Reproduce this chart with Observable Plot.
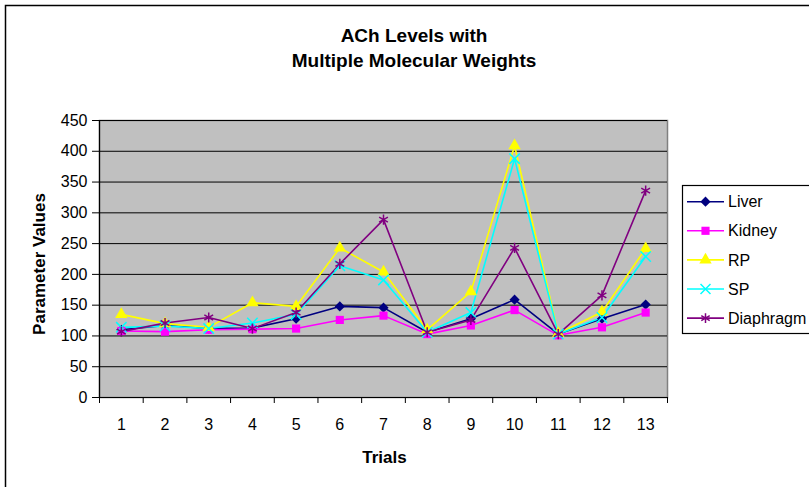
<!DOCTYPE html>
<html>
<head>
<meta charset="utf-8">
<script src="https://cdn.jsdelivr.net/npm/d3@7"></script>
<script src="https://cdn.jsdelivr.net/npm/@observablehq/plot@0.6"></script>
<style>
  html, body { margin: 0; padding: 0; background: #fff; }
  #chart svg { display: block; font-family: "Liberation Sans", Arial, sans-serif; }
</style>
</head>
<body>
<div id="chart"></div>
<script>
const trials = [1, 2, 3, 4, 5, 6, 7, 8, 9, 10, 11, 12, 13];
const liver = [110, 117, 112, 113, 128, 148, 146, 106, 128, 159, 103, 128, 151];
const kidney = [108, 107, 110, 111, 112, 126, 133, 103, 117, 142, 101, 114, 138];
const rp = [135, 120, 114, 154, 148, 243, 204, 110, 172, 409, 104, 139, 242];
const sp = [114, 116, 112, 121, 135, 214, 191, 106, 138, 388, 103, 130, 229];
const diaphragm = [107, 121, 130, 112, 138, 217, 289, 106, 126, 243, 103, 166, 336];

const seriesNames = ["Liver", "Kidney", "RP", "SP", "Diaphragm"];
const seriesValues = [liver, kidney, rp, sp, diaphragm];
const seriesColors = ["#000080", "#FF00FF", "#FFFF00", "#00FFFF", "#800080"];
const seriesSymbols = ["diamond2", "square", "triangle", "times", "asterisk"];
const filledSeries = ["Liver", "Kidney", "RP"];
const yTicks = [0, 50, 100, 150, 200, 250, 300, 350, 400, 450];
const titleLines = ["ACh Levels with", "Multiple Molecular Weights"];
const xTitle = "Trials";
const yTitle = "Parameter Values";

const data = [];
seriesNames.forEach((name, si) => {
  trials.forEach((t, i) => data.push({series: name, trial: t, value: seriesValues[si][i]}));
});
const boundaries = [trials[0] - 0.5, ...trials.map(t => t + 0.5)];

const chart = Plot.plot({
  width: 809,
  height: 487,
  marginLeft: 99,
  marginRight: 142,
  marginTop: 120,
  marginBottom: 90,
  style: {fontFamily: "'Liberation Sans', Arial, sans-serif", background: "#fff", color: "#000"},
  x: {type: "linear", domain: [boundaries[0], boundaries[boundaries.length - 1]]},
  y: {domain: [0, 450]},
  color: {domain: seriesNames, range: seriesColors},
  symbol: {domain: seriesNames, range: seriesSymbols},
  marks: [
    Plot.frame({fill: "#C0C0C0", stroke: "#808080", strokeWidth: 1.5}),
    Plot.gridY(yTicks, {stroke: "#000", strokeOpacity: 1, strokeWidth: 1}),
    Plot.axisY(yTicks, {tickSize: 7, tickPadding: 5, fontSize: 16, label: null, stroke: "#000"}),
    Plot.axisX(boundaries, {tickSize: 6, tickFormat: () => "", label: null, stroke: "#000"}),
    Plot.axisX(trials, {tickSize: 0, tickPadding: 21, fontSize: 16, label: null}),
    Plot.ruleY([0], {stroke: "#000", strokeWidth: 1.2}),
    Plot.ruleX([boundaries[0]], {stroke: "#000", strokeWidth: 1.2}),
    Plot.line(data, {x: "trial", y: "value", z: "series", stroke: "series", strokeWidth: 1.6}),
    Plot.dot(data.filter(d => filledSeries.includes(d.series)), {
      x: "trial", y: "value", symbol: "series", fill: "series", stroke: "none", r: 4.6
    }),
    Plot.dot(data.filter(d => !filledSeries.includes(d.series)), {
      x: "trial", y: "value", symbol: "series", stroke: "series", fill: "none", r: 4.8, strokeWidth: 1.5
    })
  ]
});

const svg = d3.select(chart);
// outer chart border
svg.append("rect").attr("x", 5.5).attr("y", 5.5).attr("width", 900).attr("height", 900)
  .attr("fill", "none").attr("stroke", "#000").attr("stroke-width", 1.5);

// title
const title = svg.append("text").attr("text-anchor", "middle").attr("font-weight", "bold")
  .attr("font-size", 19).attr("fill", "#000");
titleLines.forEach((line, i) => {
  title.append("tspan").attr("x", 414).attr("y", 42 + i * 25).text(line);
});

// axis titles
svg.append("text").attr("x", 384.5).attr("y", 462.5).attr("text-anchor", "middle")
  .attr("font-weight", "bold").attr("font-size", 17).attr("fill", "#000").text(xTitle);
svg.append("text").attr("transform", "translate(45,264) rotate(-90)").attr("text-anchor", "middle")
  .attr("font-weight", "bold").attr("font-size", 17).attr("fill", "#000").text(yTitle);

// legend
const lg = svg.append("g");
lg.append("rect").attr("x", 682.5).attr("y", 185.5).attr("width", 130).attr("height", 148)
  .attr("fill", "#fff").attr("stroke", "#000").attr("stroke-width", 1.2);
seriesNames.forEach((name, i) => {
  const cy = 201.7 + i * 29.1;
  lg.append("line").attr("x1", 687).attr("x2", 724).attr("y1", cy).attr("y2", cy)
    .attr("stroke", seriesColors[i]).attr("stroke-width", 1.6);
  const sym = d3.symbol().type({
    diamond2: d3.symbolDiamond2, square: d3.symbolSquare, triangle: d3.symbolTriangle,
    times: d3.symbolTimes, asterisk: d3.symbolAsterisk
  }[seriesSymbols[i]]).size(Math.PI * 4.6 * 4.6);
  const filled = filledSeries.includes(name);
  lg.append("path").attr("d", sym()).attr("transform", `translate(705.5,${cy})`)
    .attr("fill", filled ? seriesColors[i] : "none")
    .attr("stroke", filled ? "none" : seriesColors[i]).attr("stroke-width", 1.5);
  lg.append("text").attr("x", 728).attr("y", cy).attr("dy", "0.35em")
    .attr("text-anchor", "start")
    .attr("font-size", 16).attr("fill", "#000").text(name);
});

document.getElementById("chart").appendChild(chart);
</script>
</body>
</html>
